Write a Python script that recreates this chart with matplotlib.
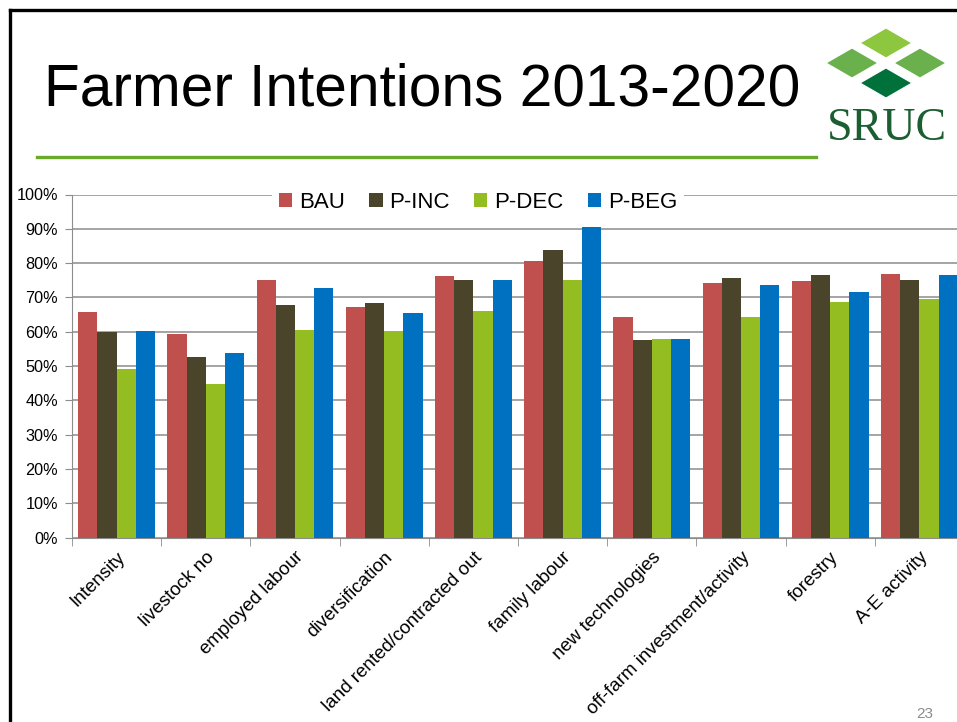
import matplotlib.pyplot as plt
import numpy as np
from matplotlib.patches import Polygon
from matplotlib.lines import Line2D

plt.rcParams['font.family'] = ['Liberation Sans', 'DejaVu Sans']

categories = ['Intensity', 'livestock no', 'employed labour', 'diversification',
              'land rented/contracted out', 'family labour', 'new technologies',
              'off-farm investment/activity', 'forestry', 'A-E activity']
series = ['BAU', 'P-INC', 'P-DEC', 'P-BEG']
bau = [65.7, 59.2, 75.1, 67.1, 76.2, 80.7, 64.2, 74.3, 74.9, 76.9]
pinc = [59.8, 52.5, 67.9, 68.3, 75.1, 83.7, 57.6, 75.7, 76.4, 75.2]
pdec = [49.0, 44.8, 60.5, 60.1, 66.0, 75.1, 57.8, 64.2, 68.8, 69.5]
pbeg = [60.1, 53.9, 72.7, 65.4, 75.0, 90.4, 57.8, 73.5, 71.7, 76.6]
colors = ['#c0504d', '#4a452a', '#93bd20', '#0070c0']

W, H = 957, 722
fig = plt.figure(figsize=(W / 100, H / 100), dpi=100)

def fx(px):
    return px / W

def fy(py):
    return 1 - py / H

# slide decoration
fig.add_artist(Line2D([fx(10), fx(10)], [fy(10), 0], color='black', lw=2.4))
fig.add_artist(Line2D([fx(10), 1], [fy(10), fy(10)], color='black', lw=2.4))
fig.add_artist(Line2D([fx(37), fx(816)], [fy(157), fy(157)], color='#6aaa2a', lw=2.4))
fig.text(fx(44), fy(105), 'Farmer Intentions 2013-2020', fontsize=42.2, va='baseline', ha='left')
fig.text(fx(933), fy(718), '23', fontsize=11, color='#8c8c8c', ha='right', va='baseline')

# logo
diamonds = [((886, 43), 26, 15, '#8dc63f'), ((852, 63), 26, 15, '#6ab04c'),
            ((920, 63), 26, 15, '#6ab04c'), ((886, 83), 26, 15, '#00713a')]
for (cx, cy), hw, hh, c in diamonds:
    pts = [(fx(cx - hw), fy(cy)), (fx(cx), fy(cy - hh)), (fx(cx + hw), fy(cy)), (fx(cx), fy(cy + hh))]
    fig.add_artist(Polygon(pts, closed=True, facecolor=c, edgecolor='white', lw=0.8))
fig.text(fx(887), fy(140), 'SRUC', fontsize=33, color='#1a5e32', ha='center', va='baseline',
         family='Liberation Serif')

# chart
ax = fig.add_axes([fx(72), fy(537.5), fx(892), (537.5 - 194.5) / H])
x = np.arange(len(categories))
bw = 0.215
for i, (name, vals) in enumerate(zip(series, [bau, pinc, pdec, pbeg])):
    ax.bar(x + (i - 1.5) * bw, vals, bw, color=colors[i], label=name, zorder=3)

ax.set_xlim(-0.5, len(categories) - 0.5)
ax.set_ylim(0, 100)
ax.set_yticks(np.arange(0, 101, 10))
ax.set_yticklabels([f'{v}%' for v in range(0, 101, 10)], fontsize=11.7)
ax.yaxis.grid(True, color='#8c8c8c', lw=1.1, zorder=0)
ax.set_xticks(x)
ax.set_xticklabels(categories, rotation=45, ha='right', rotation_mode='anchor', fontsize=13.5)
ax.set_xticks(np.arange(-0.5, len(categories), 1), minor=True)
ax.tick_params(axis='x', which='major', length=0, pad=8)
ax.tick_params(axis='x', which='minor', length=6, color='#8c8c8c')
ax.tick_params(axis='y', length=5, color='#8c8c8c', pad=5)
for s in ['top', 'right']:
    ax.spines[s].set_visible(False)
for s in ['left', 'bottom']:
    ax.spines[s].set_color('#8c8c8c')

leg = ax.legend(loc='center', bbox_to_anchor=(fx(478), fy(202)),
                bbox_transform=fig.transFigure, ncol=4, fontsize=16, frameon=True,
                handlelength=0.6, handleheight=0.6, handletextpad=0.3,
                columnspacing=1.1, borderpad=0.3, fancybox=False)
leg.get_frame().set_edgecolor('none')
leg.get_frame().set_facecolor('white')
leg.get_frame().set_alpha(1)
leg.set_zorder(5)

fig.savefig('out.png', dpi=100)
